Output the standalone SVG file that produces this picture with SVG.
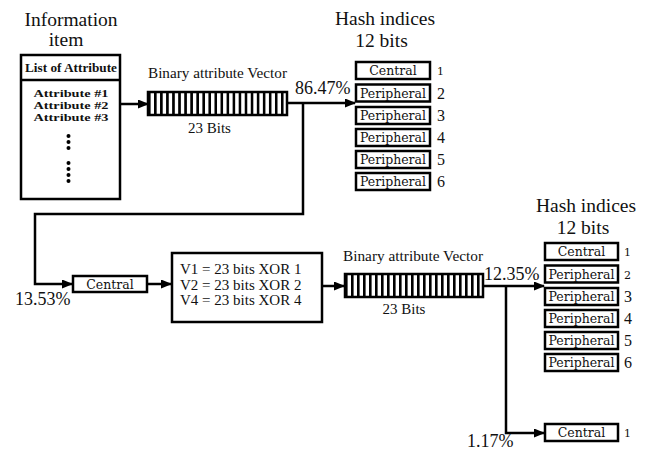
<svg xmlns="http://www.w3.org/2000/svg" width="649" height="451" viewBox="0 0 649 451">
<defs>
<marker id="ah" markerUnits="userSpaceOnUse" markerWidth="11" markerHeight="9" refX="10" refY="4.5" orient="auto">
<path d="M0,0 L11,4.5 L0,9 z" fill="#000"/>
</marker>
<pattern id="bits1" x="148" y="0" width="6.0435" height="10" patternUnits="userSpaceOnUse"><rect x="0" y="0" width="2.6" height="10" fill="#000"/></pattern>
<pattern id="bits2" x="345" y="0" width="6.0" height="10" patternUnits="userSpaceOnUse"><rect x="0" y="0" width="2.6" height="10" fill="#000"/></pattern>
</defs>
<style>
.t{font-family:"Liberation Serif","Times New Roman",serif;fill:#111}
.b{font-family:"Liberation Serif","Times New Roman",serif;font-weight:bold;fill:#111}
.h{font-family:"DejaVu Serif",serif;fill:#111}
.box{fill:#fff;stroke:#000;stroke-width:2.5}
.conn{fill:none;stroke:#000;stroke-width:2.5}
</style>
<rect width="649" height="451" fill="#fff"/>

<g id="info-item">
<text class="t" x="71" y="26" font-size="19.5" text-anchor="middle">Information</text>
<text class="t" x="66" y="46" font-size="19.5" text-anchor="middle">item</text>
<rect class="box" x="21" y="55" width="99" height="144"/>
<line x1="21" y1="80" x2="120" y2="80" stroke="#000" stroke-width="2.5"/>
<text class="b" x="71" y="72" font-size="13" text-anchor="middle" textLength="92" lengthAdjust="spacingAndGlyphs">List of Attribute</text>
<text class="b" x="71" y="97" font-size="11" text-anchor="middle" textLength="75" lengthAdjust="spacingAndGlyphs">Attribute #1</text>
<text class="b" x="71" y="109" font-size="11" text-anchor="middle" textLength="75" lengthAdjust="spacingAndGlyphs">Attribute #2</text>
<text class="b" x="71" y="121" font-size="11" text-anchor="middle" textLength="75" lengthAdjust="spacingAndGlyphs">Attribute #3</text>
<g fill="#000">
<circle cx="68.5" cy="136" r="2"/><circle cx="68.5" cy="142" r="2"/><circle cx="68.5" cy="148" r="2"/>
<circle cx="68.5" cy="163" r="2"/><circle cx="68.5" cy="169" r="2"/><circle cx="68.5" cy="175" r="2"/><circle cx="68.5" cy="181" r="2"/>
</g>
</g>

<g id="vector1">
<text class="t" x="148" y="78" font-size="15" textLength="139" lengthAdjust="spacingAndGlyphs">Binary attribute Vector</text>
<rect x="148" y="92" width="139" height="23" fill="#fff"/>
<rect x="148" y="92" width="139" height="23" fill="url(#bits1)"/>
<rect x="148" y="92" width="139" height="23" fill="none" stroke="#000" stroke-width="2.5"/>
<text class="t" x="209.5" y="133" font-size="15" text-anchor="middle">23 Bits</text>
</g>

<g id="hash1">
<text class="t" x="385" y="25" font-size="19.5" text-anchor="middle">Hash indices</text>
<text class="t" x="381.5" y="47" font-size="19.5" text-anchor="middle">12 bits</text>
<rect class="box" x="356" y="62" width="74" height="17"/>
<text class="h" x="393" y="75" font-size="12.5" text-anchor="middle">Central</text>
<rect class="box" x="356" y="84.5" width="74" height="17"/>
<text class="h" x="393" y="97.5" font-size="12.5" text-anchor="middle">Peripheral</text>
<rect class="box" x="356" y="107" width="74" height="17"/>
<text class="h" x="393" y="120" font-size="12.5" text-anchor="middle">Peripheral</text>
<rect class="box" x="356" y="129" width="74" height="17"/>
<text class="h" x="393" y="142" font-size="12.5" text-anchor="middle">Peripheral</text>
<rect class="box" x="356" y="151" width="74" height="17"/>
<text class="h" x="393" y="164" font-size="12.5" text-anchor="middle">Peripheral</text>
<rect class="box" x="356" y="173" width="74" height="17"/>
<text class="h" x="393" y="186" font-size="12.5" text-anchor="middle">Peripheral</text>
<text class="h" x="437" y="75" font-size="11">1</text>
<text class="t" x="437" y="99" font-size="16">2</text>
<text class="t" x="437" y="121" font-size="16">3</text>
<text class="t" x="437" y="143" font-size="16">4</text>
<text class="t" x="437" y="165" font-size="16">5</text>
<text class="t" x="437" y="187" font-size="16">6</text>
</g>

<g id="central-mid">
<rect class="box" x="73" y="276" width="74" height="16"/>
<text class="h" x="110" y="288.5" font-size="12.5" text-anchor="middle">Central</text>
</g>

<g id="xor-box">
<rect class="box" x="172" y="253" width="150" height="69"/>
<text class="t" x="180" y="274" font-size="15">V1 = 23 bits XOR 1</text>
<text class="t" x="180" y="289.5" font-size="15">V2 = 23 bits XOR 2</text>
<text class="t" x="180" y="305" font-size="15">V4 = 23 bits XOR 4</text>
</g>

<g id="vector2">
<text class="t" x="343" y="261" font-size="15" textLength="140" lengthAdjust="spacingAndGlyphs">Binary attribute Vector</text>
<rect x="345" y="274" width="138" height="23" fill="#fff"/>
<rect x="345" y="274" width="138" height="23" fill="url(#bits2)"/>
<rect x="345" y="274" width="138" height="23" fill="none" stroke="#000" stroke-width="2.5"/>
<text class="t" x="404" y="314" font-size="15" text-anchor="middle">23 Bits</text>
</g>

<g id="hash2">
<text class="t" x="586" y="212" font-size="19.5" text-anchor="middle">Hash indices</text>
<text class="t" x="583" y="234" font-size="19.5" text-anchor="middle">12 bits</text>
<rect class="box" x="545" y="243" width="73" height="17"/>
<text class="h" x="581.5" y="256" font-size="12.5" text-anchor="middle">Central</text>
<rect class="box" x="545" y="265.5" width="73" height="17"/>
<text class="h" x="581.5" y="278.5" font-size="12.5" text-anchor="middle">Peripheral</text>
<rect class="box" x="545" y="288" width="73" height="17"/>
<text class="h" x="581.5" y="301" font-size="12.5" text-anchor="middle">Peripheral</text>
<rect class="box" x="545" y="310" width="73" height="17"/>
<text class="h" x="581.5" y="323" font-size="12.5" text-anchor="middle">Peripheral</text>
<rect class="box" x="545" y="332" width="73" height="17"/>
<text class="h" x="581.5" y="345" font-size="12.5" text-anchor="middle">Peripheral</text>
<rect class="box" x="545" y="354" width="73" height="17"/>
<text class="h" x="581.5" y="367" font-size="12.5" text-anchor="middle">Peripheral</text>
<text class="h" x="624" y="256" font-size="11">1</text>
<text class="h" x="624" y="278.5" font-size="11">2</text>
<text class="t" x="624" y="302" font-size="16">3</text>
<text class="t" x="624" y="324" font-size="16">4</text>
<text class="t" x="624" y="346" font-size="16">5</text>
<text class="t" x="624" y="368" font-size="16">6</text>
</g>

<g id="central-bottom">
<rect class="box" x="545" y="424" width="73" height="17"/>
<text class="h" x="581.5" y="437" font-size="12.5" text-anchor="middle">Central</text>
<text class="h" x="624" y="437" font-size="11">1</text>
</g>

<g id="connectors">
<line class="conn" x1="121" y1="104" x2="148" y2="104" marker-end="url(#ah)"/>
<line class="conn" x1="287" y1="103" x2="355" y2="103" marker-end="url(#ah)"/>
<polyline class="conn" points="303,103 303,214 35,214 35,284 72,284" marker-end="url(#ah)"/>
<line class="conn" x1="148" y1="284" x2="171" y2="284" marker-end="url(#ah)"/>
<line class="conn" x1="322" y1="286" x2="344" y2="286" marker-end="url(#ah)"/>
<line class="conn" x1="483" y1="286" x2="544" y2="286" marker-end="url(#ah)"/>
<polyline class="conn" points="506,286 506,433 544,433" marker-end="url(#ah)"/>
<text class="t" x="295" y="94" font-size="18">86.47%</text>
<text class="t" x="15" y="305" font-size="18">13.53%</text>
<text class="t" x="484" y="280" font-size="18">12.35%</text>
<text class="t" x="467" y="447" font-size="18">1.17%</text>
</g>
</svg>
